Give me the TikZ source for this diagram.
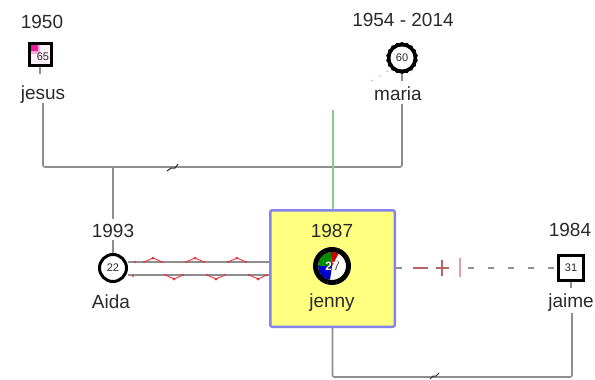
\documentclass[tikz,border=0pt]{standalone}
\usepackage{fontspec}
\setmainfont{Liberation Sans}
\usetikzlibrary{shapes.geometric,calc}
\definecolor{linegray}{HTML}{8E8E8E}
\definecolor{txt}{HTML}{2A2A2A}
\definecolor{boxfill}{HTML}{FFFF80}
\definecolor{boxedge}{HTML}{8484F0}
\definecolor{kidgreen}{HTML}{8CC88C}
\definecolor{zig}{HTML}{E8303C}
\definecolor{sepred}{HTML}{B86464}
\definecolor{seppink}{HTML}{E4A0A0}
\tikzset{
  lbl/.style={anchor=base, text=txt, font=\fontsize{19}{22}\selectfont, inner sep=0pt},
  age/.style={text=txt, font=\fontsize{11}{12}\selectfont, inner sep=0pt},
  male/.style={draw=black, line width=3pt, fill=white, inner sep=0pt},
  female/.style={circle, draw=black, line width=3pt, fill=white, inner sep=0pt},
  link/.style={draw=linegray, line width=1.6pt, rounded corners=2pt},
  tick/.style={draw=linegray, line width=1.2pt},
  gapdash/.style={draw=linegray, line width=1.2pt, dash pattern=on 6pt off 14pt},
}
\begin{document}
\begin{tikzpicture}[x=1pt,y=-1pt]
\useasboundingbox (0,0) rectangle (595,380);

% ---------- jesus ----------
\node[lbl] (jesusyear) at (42,28) {1950};
\node[male, minimum size=22pt, fill=magenta!6] (jesus) at (40,54) {};
\fill[magenta!35] (30.5,44.5) rectangle (40,54);
\fill[magenta!90] (30.5,44.5) rectangle (38,51);
\node[age] (jesusage) at (43,57) {65};
\node[lbl] (jesusname) at (43,99) {jesus};
\draw[tick] (jesus.south) -- ++(0,7);

% ---------- maria ----------
\node[lbl] (mariayear) at (403,27) {1954 - 2014};
\node[star, star points=18, star point ratio=1.07, fill=black, minimum size=32pt, inner sep=0pt] (mariaedge) at (402,58) {};
\node[circle, fill=white, minimum size=23pt, inner sep=0pt] (maria) at (402,58) {};
\node[age] (mariaage) at (maria) {60};
\node[lbl] (marianame) at (398,100) {maria};
\draw[tick] (mariaedge.south) -- ++(0,7);
\draw[linegray!70, line width=0.8pt, dash pattern=on 2pt off 7pt] (371,81) -- (388,71);

% ---------- parents' union ----------
\coordinate (famline) at (200,167);
\coordinate (mariadrop) at (402,104);
\draw[link] (jesusname.south) -- (jesusname.south |- famline) -- (mariadrop |- famline) -- (mariadrop);
\draw[txt, line width=1pt] (167,171) -- (171,168) -- (175,168) -- (178,164);

% ---------- Aida ----------
\node[lbl] (aidayear) at (113,237) {1993};
\node[female, minimum size=27pt] (aida) at (113,268) {};
\node[age] (aidaage) at (aida) {22};
\node[lbl] (aidaname) at (111,308) {Aida};
\coordinate (aidadrop) at (113,167);
\draw[link] (aidadrop) -- ($(aidayear.north)+(0,-5)$);
\draw[tick] ($(aidayear.south)+(0,3)$) -- (aida.north);

% ---------- jenny ----------
\node[draw=boxedge, fill=boxfill, line width=2.5pt, minimum width=124.5pt, minimum height=116.5pt, rounded corners=2pt] (jennybox) at (332.5,268.5) {};
\coordinate (greentop) at (333,110);
\draw[kidgreen, line width=1.3pt] (greentop) -- (greentop |- jennybox.north);
\node[lbl] (jennyyear) at (332,237) {1987};
\coordinate (jc) at (332,266);
\begin{scope}[shift={(jc)}, yscale=-1]
  \fill[white] (0,0) circle (14);
  \fill[green!55!black] (0,0) -- (95:14) arc (95:180:14) -- cycle;
  \fill[red!80!black] (0,0) -- (62:14) arc (62:95:14) -- cycle;
  \fill[blue!80!black] (0,0) -- (180:14) arc (180:262:14) -- cycle;
\end{scope}
\node[circle, draw=black, line width=5pt, minimum size=33pt, inner sep=0pt] (jenny) at (jc) {};
\node[age, text=black, font=\bfseries\fontsize{12}{12}\selectfont] (jennyshadow) at ($(jc)+(0.8,0.8)$) {27};
\node[age, text=white, font=\bfseries\fontsize{12}{12}\selectfont] (jennyage) at (jc) {27};
\node[lbl] (jennyname) at (332,307) {jenny};

% ---------- Aida -- jenny ----------
\coordinate (rtop) at (0,262);
\coordinate (rbot) at (0,275);
\draw[linegray, line width=1.2pt] (aida.east |- rtop) -- (jennybox.west |- rtop);
\draw[linegray, line width=1.2pt] (aida.east |- rbot) -- (jennybox.west |- rbot);
\foreach \x in {153,195,237}{
  \draw[zig, line width=0.9pt] ({\x-9},262) -- (\x,258) -- ({\x+9},262);
  \fill[zig] ({\x-9},262) circle (1.2) ({\x+9},262) circle (1.2) (\x,258) circle (1.5);
}
\foreach \x in {174,216,258}{
  \draw[zig, line width=0.9pt] ({\x-9},275) -- (\x,279) -- ({\x+9},275);
  \fill[zig] ({\x-9},275) circle (1.2) ({\x+9},275) circle (1.2) (\x,279) circle (1.5);
}
\fill[zig] (135,262) circle (1.2) (133,276) circle (1.2);

% ---------- jaime ----------
\node[lbl] (jaimeyear) at (570,236) {1984};
\node[male, minimum size=25pt] (jaime) at (571,268) {};
\node[age] (jaimeage) at (jaime) {31};
\node[lbl] (jaimename) at (571,307) {jaime};
\draw[tick] (jaime.south) -- ++(0,6);

% ---------- jenny -- jaime (separated) ----------
\coordinate (dline) at (0,268);
\coordinate (sepA) at (413,268);
\coordinate (sepB) at (428,268);
\coordinate (crossC) at (442,268);
\coordinate (barC) at (460,268);
\coordinate (dashstart) at (468,268);
\draw[linegray, line width=1.2pt] (jennybox.east |- dline) -- ++(6,0);
\draw[sepred, line width=1.2pt] (sepA) -- (sepB);
\draw[sepred, line width=1.2pt] ($(crossC)+(-6,0)$) -- ($(crossC)+(7,0)$);
\draw[sepred, line width=1.4pt] ($(crossC)+(0,-8)$) -- ($(crossC)+(0,8)$);
\draw[seppink, line width=1.6pt] ($(barC)+(0,-10)$) -- ($(barC)+(0,9)$);
\draw[gapdash] (dashstart) -- (jaime.west |- dline);

% ---------- jenny's line to jaime below ----------
\coordinate (botline) at (0,377);
\coordinate (jaimedrop) at (572,313);
\draw[link] (jennybox.south) -- (jennybox.south |- botline) -- (jaimedrop |- botline) -- (jaimedrop);
\draw[txt, line width=1pt] (430,379) -- (433,376) -- (436,376) -- (439,373);
\end{tikzpicture}
\end{document}
